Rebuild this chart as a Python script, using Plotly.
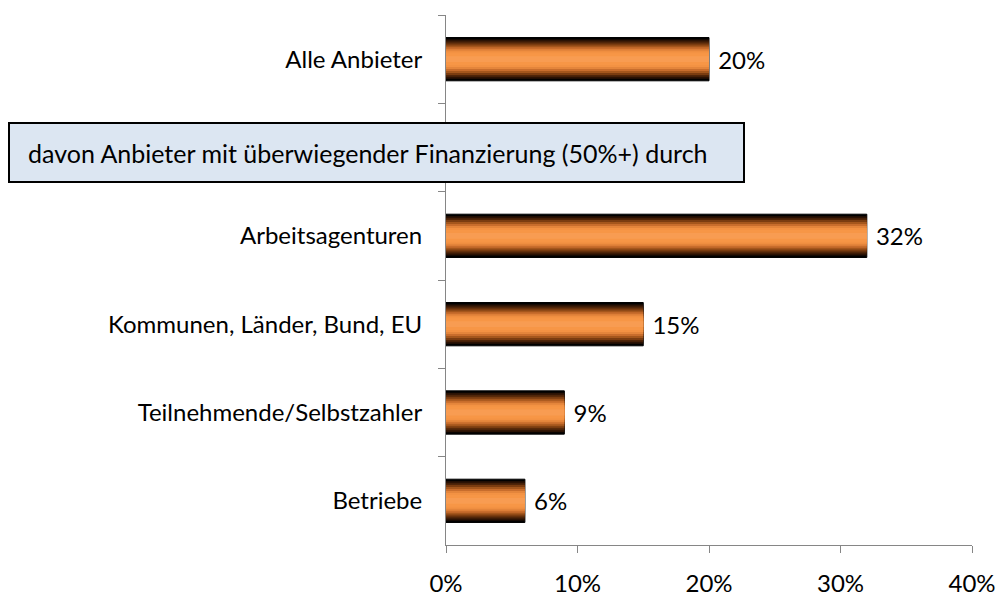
import plotly.graph_objects as go

categories = ["Alle Anbieter", " ", "Arbeitsagenturen", "Kommunen, Länder, Bund, EU",
              "Teilnehmende/Selbstzahler", "Betriebe"]
values = [20, None, 32, 15, 9, 6]
labels = ["20%", "", "32%", "15%", "9%", "6%"]
x_ticks = [0, 10, 20, 30, 40]
x_tick_labels = ["0%", "10%", "20%", "30%", "40%"]
box_text = "davon Anbieter mit überwiegender Finanzierung (50%+) durch"

FONT = "Lato"
FS = 24
W, H = 997, 597
ML, MR, MT, MB = 446, 25, 15, 52

# gradient layers (distance from bar edge in px of 22 half-height, colour)
BAR_W = 0.49
grad = [(0, "#000000"), (2, "#2a1204"), (4, "#4f2509"), (6, "#7a3c10"), (8, "#a4561c"),
        (10, "#c86d2c"), (12, "#e4853b"), (14, "#f39243"), (16, "#f79646"), (19, "#f89c52")]
layers = [(BAR_W * (22 - e) / 22, c) for e, c in grad]

fig = go.Figure()
for i, (w, c) in enumerate(layers):
    fig.add_trace(go.Bar(
        y=categories, x=values, orientation="h", width=w,
        marker=dict(color=c, line=dict(color="#000000", width=1 if i == 0 else 0)),
        text=labels if i == 0 else None,
        texttemplate=" %{text}" if i == 0 else None,
        textposition="outside" if i == 0 else "none",
        textfont=dict(family=FONT, size=FS, color="#000000"),
        cliponaxis=False, showlegend=False, hoverinfo="skip",
    ))

pw = W - ML - MR
ph = H - MT - MB
def px_to_paper_x(px):
    return (px - ML) / pw
def px_to_paper_y(py):
    return (H - MB - py) / ph

fig.add_shape(type="rect", xref="paper", yref="paper",
              x0=px_to_paper_x(9), x1=px_to_paper_x(744),
              y0=px_to_paper_y(182), y1=px_to_paper_y(123),
              fillcolor="#DCE6F2", line=dict(color="#000000", width=2), layer="above")
fig.add_annotation(xref="paper", yref="paper", x=px_to_paper_x(27), y=px_to_paper_y(152.5),
                   xanchor="left", yanchor="middle", showarrow=False, text=box_text,
                   borderpad=0, font=dict(family=FONT, size=25, color="#000000"))

fig.update_layout(
    width=W, height=H, margin=dict(l=ML, r=MR, t=MT, b=MB, autoexpand=False),
    barmode="overlay", plot_bgcolor="white", paper_bgcolor="white",
    font=dict(family=FONT, size=FS, color="#000000"),
    xaxis=dict(range=[0, 40], tickvals=x_ticks, ticktext=x_tick_labels, automargin=False,
               showgrid=False, zeroline=False, showline=True, linecolor="#868686",
               linewidth=1, ticks="outside", ticklen=7, tickcolor="#868686",
               ticklabelstandoff=10, tickfont=dict(family=FONT, size=FS)),
    yaxis=dict(type="category", categoryorder="array", categoryarray=categories,
               automargin=False,
               range=[5.5, -0.5], showgrid=False, zeroline=False, showline=True,
               linecolor="#868686", linewidth=1, ticks="outside", ticklen=7,
               tickcolor="#868686", tickson="boundaries", ticklabelstandoff=18,
               tickfont=dict(family=FONT, size=FS)),
)

fig.write_html("out.html", config={"displayModeBar": False},
               post_script="document.body.style.margin='0';document.body.style.overflow='hidden';")
